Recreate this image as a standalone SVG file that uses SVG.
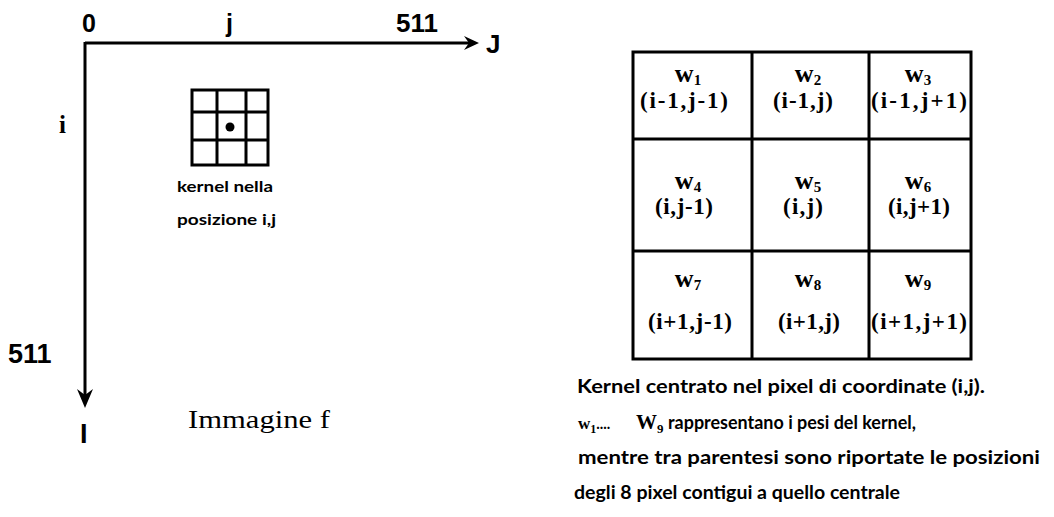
<svg xmlns="http://www.w3.org/2000/svg" width="1054" height="517" viewBox="0 0 1054 517">
<style>
.ax{font-family:"Liberation Sans",Arial,sans-serif;font-weight:bold;fill:#000}
.sf{font-family:"Liberation Serif","Times New Roman",serif;font-weight:bold;fill:#000}
.sn{font-family:"Liberation Serif","Times New Roman",serif;font-weight:normal;fill:#000}
.hs{font-family:Lato,"Liberation Sans",sans-serif;font-weight:bold;fill:#000}
.ln{stroke:#000;stroke-width:3;fill:none}
.grid{stroke:#000;stroke-width:3;fill:none}
.tb{stroke:#000;stroke-width:3;fill:#fff}
.w{font-size:26px}
.sub{font-size:15px}
.p{font-size:23px}
</style>
<rect width="1054" height="517" fill="#fff"/>
<g id="connectors">
<path class="ln" d="M85,43 H472"/>
<polygon points="479,43 464,36 469,43 464,50" fill="#000"/>
<path class="ln" d="M85,42 V400"/>
<polygon points="85,408 77,389 85,395 93,389" fill="#000"/>
</g>
<g id="axis-labels">
<text class="ax" x="82" y="32" font-size="25">0</text>
<text class="ax" x="226" y="32" font-size="25">j</text>
<text class="ax" x="396" y="32" font-size="26">511</text>
<text class="ax" x="486" y="53" font-size="26">J</text>
<text class="ax" x="8" y="363" font-size="27">511</text>
<text class="ax" x="80" y="443" font-size="27">I</text>
<text class="sf" x="59" y="133" font-size="25">i</text>
<text class="sn" x="188" y="428" font-size="26" textLength="142" lengthAdjust="spacingAndGlyphs">Immagine f</text>
</g>
<g id="small-kernel">
<rect class="grid" x="192" y="90" width="76" height="75"/>
<path class="grid" d="M217,90 V165 M246,90 V165 M192,112 H268 M192,140 H268"/>
<circle cx="230" cy="127" r="4.5" fill="#000"/>
<text class="hs" x="177" y="192" font-size="15" textLength="96" lengthAdjust="spacingAndGlyphs">kernel nella</text>
<text class="hs" x="177" y="225" font-size="15" textLength="99" lengthAdjust="spacingAndGlyphs">posizione i,j</text>
</g>
<g id="kernel-table">
<rect class="tb" x="633" y="52" width="338" height="307"/>
<path class="grid" d="M752,52 V359 M869,52 V359 M633,139 H971 M633,251 H971"/>
</g>
<g id="cell-w1" class="sf" text-anchor="middle">
<text class="w" x="688" y="82">w<tspan class="sub" dy="3">1</tspan></text>
<text class="p" x="684" y="108" textLength="88" lengthAdjust="spacing">(i-1,j-1)</text>
</g>
<g id="cell-w2" class="sf" text-anchor="middle">
<text class="w" x="808" y="82">w<tspan class="sub" dy="3">2</tspan></text>
<text class="p" x="803" y="108" textLength="60" lengthAdjust="spacing">(i-1,j)</text>
</g>
<g id="cell-w3" class="sf" text-anchor="middle">
<text class="w" x="918" y="82">w<tspan class="sub" dy="3">3</tspan></text>
<text class="p" x="919" y="108" textLength="96" lengthAdjust="spacing">(i-1,j+1)</text>
</g>
<g id="cell-w4" class="sf" text-anchor="middle">
<text class="w" x="688" y="189">w<tspan class="sub" dy="3">4</tspan></text>
<text class="p" x="684" y="214" textLength="58" lengthAdjust="spacing">(i,j-1)</text>
</g>
<g id="cell-w5" class="sf" text-anchor="middle">
<text class="w" x="808" y="189">w<tspan class="sub" dy="3">5</tspan></text>
<text class="p" x="803" y="214" textLength="40" lengthAdjust="spacing">(i,j)</text>
</g>
<g id="cell-w6" class="sf" text-anchor="middle">
<text class="w" x="918" y="189">w<tspan class="sub" dy="3">6</tspan></text>
<text class="p" x="919" y="214" textLength="62" lengthAdjust="spacing">(i,j+1)</text>
</g>
<g id="cell-w7" class="sf" text-anchor="middle">
<text class="w" x="688" y="287">w<tspan class="sub" dy="3">7</tspan></text>
<text class="p" x="690" y="329" textLength="84" lengthAdjust="spacing">(i+1,j-1)</text>
</g>
<g id="cell-w8" class="sf" text-anchor="middle">
<text class="w" x="808" y="287">w<tspan class="sub" dy="3">8</tspan></text>
<text class="p" x="809" y="329" textLength="62" lengthAdjust="spacing">(i+1,j)</text>
</g>
<g id="cell-w9" class="sf" text-anchor="middle">
<text class="w" x="918" y="287">w<tspan class="sub" dy="3">9</tspan></text>
<text class="p" x="919" y="329" textLength="96" lengthAdjust="spacing">(i+1,j+1)</text>
</g>
<g id="caption">
<text class="hs" x="577" y="393" font-size="18" textLength="408" lengthAdjust="spacingAndGlyphs">Kernel centrato nel pixel di coordinate (i,j).</text>
<text class="sf" x="578" y="429" font-size="17">w<tspan font-size="12" dy="4">1</tspan><tspan dy="-4" font-size="14">....</tspan></text>
<text class="sf" x="636" y="429" font-size="21">W<tspan font-size="13" dy="4">9</tspan></text>
<text class="hs" x="668" y="429" font-size="18" textLength="248" lengthAdjust="spacingAndGlyphs">rappresentano i pesi del kernel,</text>
<text class="hs" x="578" y="464" font-size="18" textLength="462" lengthAdjust="spacingAndGlyphs">mentre tra parentesi sono riportate le posizioni</text>
<text class="hs" x="574" y="499" font-size="18" textLength="326" lengthAdjust="spacingAndGlyphs">degli 8 pixel contigui a quello centrale</text>
</g>
</svg>
